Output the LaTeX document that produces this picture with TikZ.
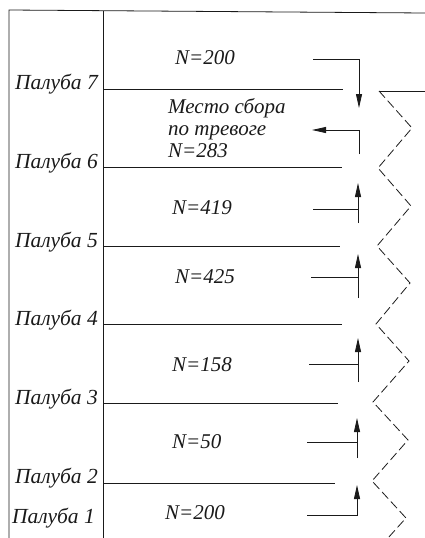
\documentclass[tikz,border=0pt]{standalone}
\usepackage{fontspec}
\setmainfont{Liberation Serif}
\usetikzlibrary{arrows.meta, positioning}
\definecolor{color_line}{HTML}{1A1A1A}
\tikzset{
  frame_line/.style={draw=color_line, line width=0.8pt},
  deck_line/.style={draw=color_line, line width=0.8pt},
  hull_zigzag/.style={draw=color_line, line width=0.8pt, dash pattern=on 9pt off 4pt},
  deck_label/.style={font=\itshape\fontsize{21.5}{22}\selectfont, text=color_line, anchor=base east, inner sep=0pt},
  count_label/.style={font=\itshape\fontsize{21}{22}\selectfont, text=color_line, anchor=base west, inner sep=0pt, align=left},
  flow_arrow/.style={-{Triangle[length=14pt, width=6pt]}, draw=color_line, line width=0.8pt},
  flow_line/.style={draw=color_line, line width=0.8pt},
}

\begin{document}
\begin{tikzpicture}[x=1pt, y=-1pt]
  \useasboundingbox (0,0) rectangle (425,538);
  % frame of the ship section
  \draw[frame_line] (9,538) -- (9,10) -- (425,13);
  \draw[frame_line] (103,11) -- (103,538);
  % decks
  \node[deck_label] (deck7) at (98,89) {Палуба 7};
  \node[deck_label] (deck6) at (98,168) {Палуба 6};
  \node[deck_label] (deck5) at (98,247) {Палуба 5};
  \node[deck_label] (deck4) at (98,325) {Палуба 4};
  \node[deck_label] (deck3) at (98,404) {Палуба 3};
  \node[deck_label] (deck2) at (98,483) {Палуба 2};
  \node[deck_label, anchor=base west] (deck1) at (12,523) {Палуба 1};
  \draw[deck_line] (103,89) -- (343,89);
  \draw[deck_line] (103,167) -- (342,167);
  \draw[deck_line] (103,246) -- (340,246);
  \draw[deck_line] (103,324) -- (342,324);
  \draw[deck_line] (103,403) -- (338,403);
  \draw[deck_line] (103,483) -- (335,483);
  % people counts
  \node[count_label] (count7) at (175,64) {N=200};
  \node[count_label] (count6) at (168,157) {Место сбора\\по тревоге\\N=283};
  \node[count_label] (count5) at (172,214) {N=419};
  \node[count_label] (count4) at (175,283) {N=425};
  \node[count_label] (count3) at (172,371) {N=158};
  \node[count_label] (count2) at (172,448) {N=50};
  \node[count_label] (count1) at (165,519) {N=200};
  % flows to the muster station
  \coordinate (flow7_tail) at (313,59);
  \coordinate (flow7_bend) at (359,59);
  \coordinate (flow7_tip) at (359,108);
  \draw[flow_arrow] (flow7_tail) -- (flow7_bend) -- (flow7_tip);
  \coordinate (flow6_tail) at (359,154);
  \coordinate (flow6_bend) at (359,130);
  \coordinate (flow6_tip) at (312,130);
  \draw[flow_arrow] (flow6_tail) -- (flow6_bend) -- (flow6_tip);
  \coordinate (flow5_tail) at (358,223);
  \coordinate (flow5_tip) at (358,183);
  \coordinate (flow5_join) at (358,209);
  \coordinate (flow5_feed) at (313,209);
  \draw[flow_arrow] (flow5_tail) -- (flow5_tip);
  \draw[flow_line] (flow5_feed) -- (flow5_join);
  \coordinate (flow4_tail) at (358,298);
  \coordinate (flow4_tip) at (358,254);
  \coordinate (flow4_join) at (358,277);
  \coordinate (flow4_feed) at (311,277);
  \draw[flow_arrow] (flow4_tail) -- (flow4_tip);
  \draw[flow_line] (flow4_feed) -- (flow4_join);
  \coordinate (flow3_tail) at (358,382);
  \coordinate (flow3_tip) at (358,338);
  \coordinate (flow3_join) at (358,364);
  \coordinate (flow3_feed) at (309,364);
  \draw[flow_arrow] (flow3_tail) -- (flow3_tip);
  \draw[flow_line] (flow3_feed) -- (flow3_join);
  \coordinate (flow2_tail) at (357,458);
  \coordinate (flow2_tip) at (357,418);
  \coordinate (flow2_join) at (357,442);
  \coordinate (flow2_feed) at (307,442);
  \draw[flow_arrow] (flow2_tail) -- (flow2_tip);
  \draw[flow_line] (flow2_feed) -- (flow2_join);
  \coordinate (flow1_tail) at (307,515);
  \coordinate (flow1_bend) at (357,515);
  \coordinate (flow1_tip) at (357,485);
  \draw[flow_arrow] (flow1_tail) -- (flow1_bend) -- (flow1_tip);
  % broken-off hull side
  \draw[frame_line] (379,91) -- (425,91);
  \draw[hull_zigzag] (379,91) -- (412,128) -- (378,168) -- (411,206) -- (377,246)
    -- (410,283) -- (376,324) -- (409,361) -- (373,402) -- (408,440)
    -- (372,481) -- (406,518) -- (388,538);
\end{tikzpicture}
\end{document}
